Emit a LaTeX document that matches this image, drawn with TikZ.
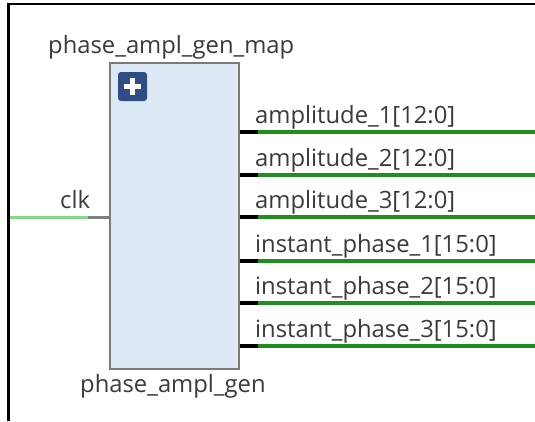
\documentclass[tikz,border=0pt]{standalone}
\usepackage{fontspec}
\setmainfont{Open Sans}
\definecolor{txt}{HTML}{3A3A3A}
\definecolor{boxfill}{HTML}{DEE9F6}
\definecolor{boxborder}{HTML}{7A7A7A}
\definecolor{plusblue}{HTML}{2D4D84}
\definecolor{busgreen}{HTML}{1F8E1F}
\definecolor{clkgreen}{HTML}{86D886}
\definecolor{stubgray}{HTML}{808080}
\begin{document}
\begin{tikzpicture}[x=1pt,y=-1pt,
  lbl/.style={font=\fontsize{23.8}{27}\selectfont, text=txt, inner sep=0pt},
  outlbl/.style={lbl, anchor=base west},
  bus/.style={line width=3.2pt, draw=busgreen},
  stub/.style={line width=3.2pt, draw=black}]
\useasboundingbox (0,0) rectangle (535,421);
\fill[white] (0,0) rectangle (535,421);
% frame (top and left only)
\draw[line width=2.6pt] (8.5,421) -- (8.5,4) -- (535,4);
% block
\node[draw=boxborder, fill=boxfill, line width=1.6pt, minimum width=129pt,
      minimum height=306pt, inner sep=0pt, anchor=north west] (blk) at (109,62) {};
\node[fill=plusblue, rounded corners=3pt, minimum width=29pt, minimum height=29pt,
      inner sep=0pt] (plus) at (132.5,86.5) {};
\draw[white, line width=4.5pt] ([xshift=-8.5pt]plus.center) -- ([xshift=8.5pt]plus.center);
\draw[white, line width=4.5pt] ([yshift=-8.5pt]plus.center) -- ([yshift=8.5pt]plus.center);
% titles
\node[lbl, anchor=base west] (inst) at (48,53) {phase\_ampl\_gen\_map};
\node[lbl, anchor=base west] (cell) at (80,392) {phase\_ampl\_gen};
% clk input
\coordinate (clkin) at (10,217);
\coordinate (clkstub) at (88,217);
\coordinate (clkpin) at (blk.west |- clkin);
\draw[clkgreen, line width=3pt] (clkin) -- (clkstub);
\draw[stubgray, line width=3pt] (clkstub) -- (clkpin);
\node[outlbl] (clklbl) at (60,208) {clk};
% outputs
\foreach \y/\name/\t in {132/a1/amplitude\_1[12:0], 175/a2/amplitude\_2[12:0],
    217/a3/amplitude\_3[12:0], 261/p1/instant\_phase\_1[15:0],
    303/p2/instant\_phase\_2[15:0], 346/p3/instant\_phase\_3[15:0]} {
  \coordinate (\name pin) at (blk.east |- 0,\y);
  \coordinate (\name stub) at (258,\y);
  \coordinate (\name end) at (535,\y);
  \draw[stub] (\name pin) -- (\name stub);
  \draw[bus] (\name stub) -- (\name end);
  \node[outlbl] (\name lbl) at (255,\y-9) {\t};
}
\end{tikzpicture}
\end{document}
